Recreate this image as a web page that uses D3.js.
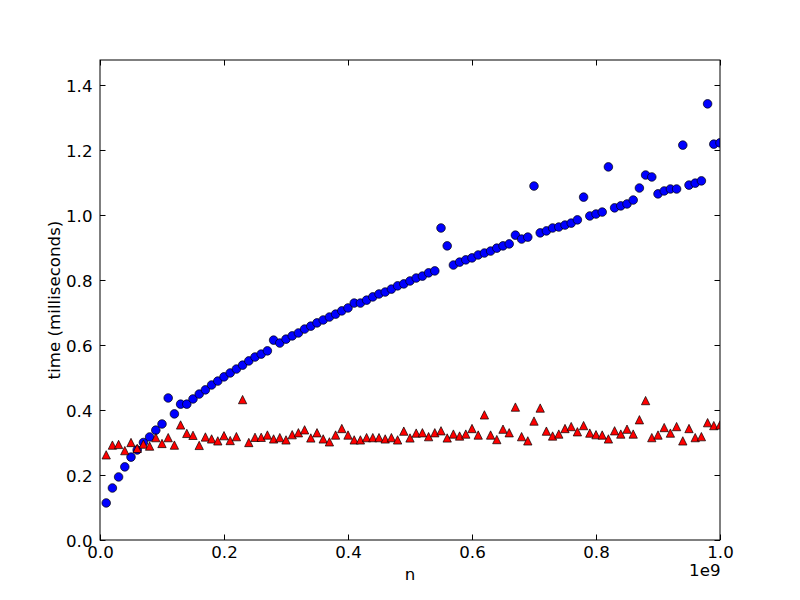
<!DOCTYPE html>
<html>
<head>
<meta charset="utf-8">
<script src="https://cdn.jsdelivr.net/npm/d3@7"></script>
<style>
  html, body { margin: 0; padding: 0; background: #ffffff; }
  svg { display: block; }
  text { font-family: "DejaVu Sans", sans-serif; fill: #000; }
</style>
</head>
<body>
<svg id="chart" width="800" height="600"></svg>
<script>
// n values (units of 1e9)
const nValues = d3.range(1, 101).map(k => k / 100);

// Blue circles: time (ms)
const blueTimes = [
  0.114, 0.160, 0.194, 0.225, 0.255, 0.277, 0.300, 0.317, 0.338, 0.357,
  0.437, 0.388, 0.418, 0.418, 0.434, 0.449, 0.462, 0.477, 0.489, 0.502,
  0.514, 0.526, 0.538, 0.551, 0.563, 0.572, 0.582, 0.615, 0.606, 0.618,
  0.628, 0.637, 0.649, 0.658, 0.668, 0.677, 0.686, 0.695, 0.705, 0.714,
  0.729, 0.729, 0.738, 0.748, 0.757, 0.763, 0.772, 0.782, 0.788, 0.797,
  0.806, 0.812, 0.822, 0.828, 0.960, 0.905, 0.846, 0.855, 0.862, 0.868,
  0.877, 0.883, 0.889, 0.898, 0.905, 0.911, 0.938, 0.926, 0.932, 1.089,
  0.945, 0.951, 0.960, 0.963, 0.969, 0.975, 0.985, 1.055, 0.997, 1.003,
  1.009, 1.148, 1.022, 1.028, 1.034, 1.046, 1.083, 1.123, 1.117, 1.065,
  1.074, 1.080, 1.080, 1.215, 1.092, 1.098, 1.105, 1.342, 1.218, 1.222
];

// Red triangles: time (ms)
const redTimes = [
  0.262, 0.292, 0.294, 0.275, 0.300, 0.282, 0.295, 0.289, 0.315, 0.297,
  0.315, 0.292, 0.354, 0.328, 0.322, 0.291, 0.317, 0.311, 0.305, 0.321,
  0.306, 0.318, 0.432, 0.300, 0.316, 0.316, 0.323, 0.311, 0.315, 0.308,
  0.324, 0.330, 0.339, 0.314, 0.330, 0.311, 0.302, 0.323, 0.343, 0.323,
  0.308, 0.308, 0.315, 0.315, 0.315, 0.311, 0.315, 0.308, 0.335, 0.314,
  0.329, 0.330, 0.318, 0.330, 0.336, 0.314, 0.326, 0.320, 0.326, 0.343,
  0.323, 0.385, 0.323, 0.309, 0.341, 0.330, 0.409, 0.318, 0.305, 0.366,
  0.406, 0.335, 0.320, 0.326, 0.343, 0.349, 0.333, 0.352, 0.329, 0.324,
  0.323, 0.311, 0.336, 0.326, 0.341, 0.326, 0.370, 0.429, 0.315, 0.323,
  0.346, 0.329, 0.349, 0.305, 0.343, 0.315, 0.318, 0.361, 0.352, 0.354
];

const xTicks = [0.0, 0.2, 0.4, 0.6, 0.8, 1.0];
const yTicks = [0.0, 0.2, 0.4, 0.6, 0.8, 1.0, 1.2, 1.4];
const xLabel = "n";
const yLabel = "time (milliseconds)";
const offsetLabel = "1e9";

const svg = d3.select("#chart");
const mLeft = 100, mRight = 720, mTop = 60, mBottom = 540;

const x = d3.scaleLinear().domain([0, 1.0]).range([mLeft, mRight]);
const y = d3.scaleLinear().domain([0, 1.4769]).range([mBottom, mTop]);

svg.append("rect").attr("width", 800).attr("height", 600).attr("fill", "#ffffff");

svg.append("defs").append("clipPath").attr("id", "clip")
  .append("rect").attr("x", mLeft).attr("y", mTop)
  .attr("width", mRight - mLeft).attr("height", mBottom - mTop);

const plot = svg.append("g").attr("clip-path", "url(#clip)");

// Blue circles
plot.selectAll("circle.blue").data(blueTimes).enter().append("circle")
  .attr("class", "blue")
  .attr("cx", (d, i) => x(nValues[i]))
  .attr("cy", d => y(d))
  .attr("r", 4.3)
  .attr("fill", "#0000ff")
  .attr("stroke", "#000")
  .attr("stroke-width", 0.7);

// Red triangles
const hs = 8.33 / 2;
const triPath = `M0,${-hs}L${-hs},${hs}L${hs},${hs}Z`;
plot.selectAll("path.red").data(redTimes).enter().append("path")
  .attr("class", "red")
  .attr("d", triPath)
  .attr("transform", (d, i) => `translate(${x(nValues[i])},${y(d)})`)
  .attr("fill", "#ff0000")
  .attr("stroke", "#000")
  .attr("stroke-width", 0.7)
  .attr("stroke-linejoin", "miter");

// Frame
svg.append("rect")
  .attr("x", mLeft).attr("y", mTop)
  .attr("width", mRight - mLeft).attr("height", mBottom - mTop)
  .attr("fill", "none").attr("stroke", "#000").attr("stroke-width", 1);

const fs = 16.67;
const tickLen = 5.5;

// X axis ticks (bottom & top, inward)
const xAxisB = d3.axisBottom(x).tickValues(xTicks).tickSize(-tickLen).tickPadding(0).tickFormat(d3.format(".1f"));
const gxb = svg.append("g").attr("transform", `translate(0,${mBottom})`).call(xAxisB);
gxb.select(".domain").remove();
gxb.selectAll("line").attr("stroke", "#000").attr("stroke-width", 1);
gxb.selectAll("text")
  .attr("y", 18).attr("dy", null)
  .style("font-family", "DejaVu Sans").style("font-size", fs + "px").attr("fill", "#000");

const xAxisT = d3.axisTop(x).tickValues(xTicks).tickSize(-tickLen).tickFormat("");
const gxt = svg.append("g").attr("transform", `translate(0,${mTop})`).call(xAxisT);
gxt.select(".domain").remove();
gxt.selectAll("line").attr("stroke", "#000").attr("stroke-width", 1);

// Y axis ticks (left & right, inward)
const yAxisL = d3.axisLeft(y).tickValues(yTicks).tickSize(-tickLen).tickPadding(0).tickFormat(d3.format(".1f"));
const gyl = svg.append("g").attr("transform", `translate(${mLeft},0)`).call(yAxisL);
gyl.select(".domain").remove();
gyl.selectAll("line").attr("stroke", "#000").attr("stroke-width", 1);
gyl.selectAll("text")
  .attr("x", -7.5).attr("dy", "0.36em")
  .style("font-family", "DejaVu Sans").style("font-size", fs + "px").attr("fill", "#000");

const yAxisR = d3.axisRight(y).tickValues(yTicks).tickSize(-tickLen).tickFormat("");
const gyr = svg.append("g").attr("transform", `translate(${mRight},0)`).call(yAxisR);
gyr.select(".domain").remove();
gyr.selectAll("line").attr("stroke", "#000").attr("stroke-width", 1);

// Labels
svg.append("text")
  .attr("x", (mLeft + mRight) / 2).attr("y", 580)
  .attr("text-anchor", "middle")
  .style("font-size", fs + "px")
  .text(xLabel);

svg.append("text")
  .attr("transform", `translate(59.5,${(mTop + mBottom) / 2}) rotate(-90)`)
  .attr("text-anchor", "middle")
  .style("font-size", fs + "px")
  .text(yLabel);

svg.append("text")
  .attr("x", 720.5).attr("y", 576.3)
  .attr("text-anchor", "end")
  .style("font-size", fs + "px")
  .text(offsetLabel);
</script>
</body>
</html>
